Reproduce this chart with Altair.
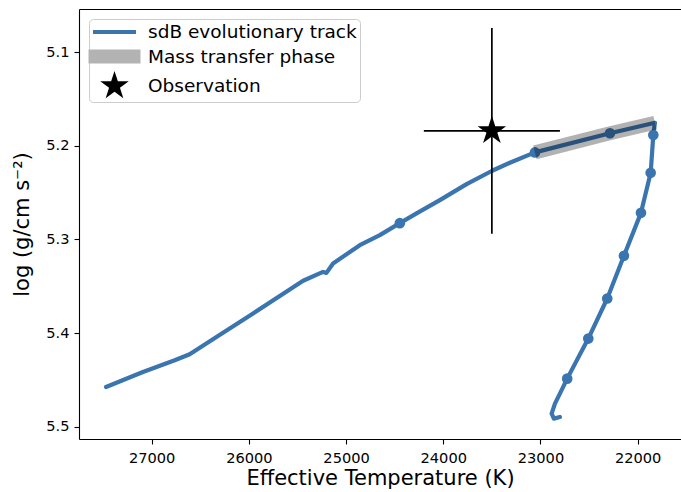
import altair as alt
import pandas as pd

# ---- data ----
track_teff = [22800, 22862, 22885, 22851, 22800, 22725, 22508, 22313, 22141, 21966,
              21866, 21839, 21822, 22285, 23057, 23315, 23497, 23760, 24035, 24275,
              24447, 24653, 24859, 25134, 25202, 25237, 25442, 25957, 26334, 26609,
              26763, 27090, 27470]
track_logg = [5.4897, 5.4914, 5.4861, 5.4754, 5.4647, 5.4487, 5.4059, 5.3631, 5.3175, 5.2716,
              5.2288, 5.1884, 5.1753, 5.1866, 5.2070, 5.2181, 5.2266, 5.2409, 5.2580, 5.2722,
              5.2826, 5.2954, 5.3061, 5.3257, 5.3357, 5.3347, 5.3441, 5.3791, 5.4042, 5.4227,
              5.4291, 5.4416, 5.4576]
dot_teff = [22725, 22508, 22313, 22141, 21966, 21866, 21839, 22285, 23057, 24447]
dot_logg = [5.4487, 5.4059, 5.3631, 5.3175, 5.2716, 5.2288, 5.1884, 5.1866, 5.2070, 5.2826]
band_teff = [21822, 22285, 23057]
band_logg = [5.1753, 5.1866, 5.2070]
obs_teff = [23500]
obs_logg = [5.184]
obs_teff_err = [700]
obs_logg_err = [0.11]

legend_labels = ["sdB evolutionary track", "Mass transfer phase", "Observation"]
legend_colors = ["#3a75b0", "#b3b3b3", "#000000"]

x_ticks = [22000, 23000, 24000, 25000, 26000, 27000]
y_ticks = [5.1, 5.2, 5.3, 5.4, 5.5]
x_domain = [21554, 27748]
y_domain = [5.0538, 5.5132]

BLUE = "#3a75b0"
W, H = 602, 430
FONT = "DejaVu Sans"

# legend symbol paths (unit coords, scaled by sqrt(size)/2)
LINE_PATH = "M-2.15,-0.19L2.15,-0.19L2.15,0.19L-2.15,0.19Z"
BAND_PATH = "M-2.6,-0.7L2.6,-0.7L2.6,0.7L-2.6,0.7Z"
STAR_PATH = ("M0,-1.5L0.3368,-0.4636L1.4266,-0.4635L0.545,0.1771L0.8817,1.2135"
             "L0,0.573L-0.8817,1.2135L-0.545,0.1771L-1.4266,-0.4635L-0.3368,-0.4636Z")

track_df = pd.DataFrame({"teff": track_teff, "logg": track_logg,
                         "idx": list(range(len(track_teff)))})
dot_df = pd.DataFrame({"teff": dot_teff, "logg": dot_logg})
band_df = pd.DataFrame({"teff": band_teff, "logg": band_logg,
                        "idx": list(range(len(band_teff)))})
obs_df = pd.DataFrame({
    "teff": obs_teff, "logg": obs_logg,
    "t_lo": [t - e for t, e in zip(obs_teff, obs_teff_err)],
    "t_hi": [t + e for t, e in zip(obs_teff, obs_teff_err)],
    "g_lo": [g - e for g, e in zip(obs_logg, obs_logg_err)],
    "g_hi": [g + e for g, e in zip(obs_logg, obs_logg_err)],
    "series": ["Observation"],
})

xs = alt.Scale(domain=x_domain, reverse=True, nice=False, zero=False)
ys = alt.Scale(domain=y_domain, reverse=True, nice=False, zero=False)

x_axis = alt.Axis(values=x_ticks, format="d", title="Effective Temperature (K)",
                  grid=False, titlePadding=3, labelPadding=6)
y_axis = alt.Axis(values=y_ticks, format=".1f", title="log (g/cm s\u207b\u00b2)",
                  grid=False, titlePadding=13, labelPadding=5)
top_axis = alt.Axis(orient="top", labels=False, ticks=False, grid=False, title=None,
                    domain=True)


def X(field="teff", axis=None):
    return alt.X(f"{field}:Q", scale=xs, axis=axis)


def Y(field="logg"):
    return alt.Y(f"{field}:Q", scale=ys, axis=y_axis, title="log (g/cm s\u207b\u00b2)")


track = alt.Chart(track_df).mark_line(color=BLUE, strokeWidth=4.2, strokeJoin="round",
                                      strokeCap="round").encode(
    x=X(axis=x_axis), y=Y(), order="idx:Q")

dots = alt.Chart(dot_df).mark_circle(color=BLUE, size=113, opacity=1).encode(
    x=X(), y=Y())

band = alt.Chart(band_df).mark_line(color="black", opacity=0.3, strokeWidth=14,
                                    strokeCap="butt").encode(
    x=X(), y=Y(), order="idx:Q")

err_h = alt.Chart(obs_df).mark_rule(color="black", strokeWidth=1.7).encode(
    x=X("t_lo"), x2="t_hi:Q", y=Y())

err_v = alt.Chart(obs_df).mark_rule(color="black", strokeWidth=1.7).encode(
    x=X(axis=top_axis), y=Y("g_lo"), y2="g_hi:Q")

leg = alt.Legend(title=None, orient="top-left", offset=10, symbolSize=400,
                 symbolStrokeWidth=0, symbolOffset=12.5, labelFontSize=18.5,
                 labelFont=FONT, labelColor="black", labelOffset=23.5,
                 labelExpr="datum.label + '   \u2009\u2009'",
                 rowPadding=4.5, padding=3,
                 fillColor="white", strokeColor="#cccccc", cornerRadius=4,
                 labelLimit=400, symbolOpacity=1)

star = alt.Chart(obs_df).mark_point(filled=True, size=400, opacity=1,
                                    strokeWidth=0).encode(
    x=X(), y=Y(),
    shape=alt.Shape("series:N", scale=alt.Scale(domain=legend_labels,
                                                range=[LINE_PATH, BAND_PATH, STAR_PATH]),
                    legend=leg),
    color=alt.Color("series:N", scale=alt.Scale(domain=legend_labels, range=legend_colors),
                    legend=leg),
)

chart = alt.layer(track, dots, band, err_h, err_v, star).resolve_axis(
    x="independent"
).properties(
    width=W, height=H,
    autosize=alt.AutoSizeParams(type="none"),
    padding={"left": 79, "top": 9, "right": 0, "bottom": 53},
).configure_view(stroke=None).configure_axis(
    labelFont=FONT, titleFont=FONT, labelFontSize=14.6, titleFontSize=21,
    titleFontWeight="normal", labelColor="black", titleColor="black",
    domainColor="black", domainWidth=1.1, tickColor="black", tickWidth=1.1, tickSize=5,
)

chart.save("out.html", embed_options={"renderer": "svg", "actions": False})
